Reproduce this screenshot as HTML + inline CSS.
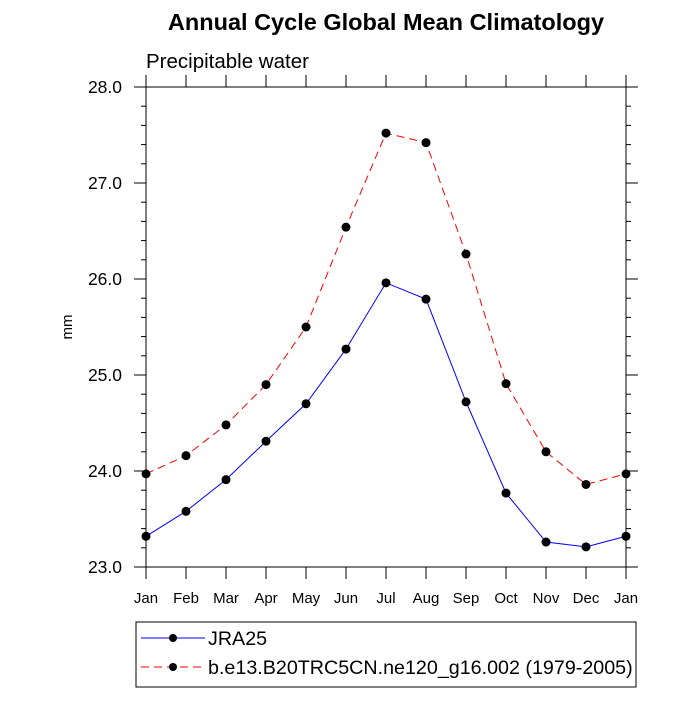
<!DOCTYPE html>
<html><head><meta charset="utf-8"><style>
body{margin:0;background:#fff}
svg{font-family:"Liberation Sans",sans-serif}
</style></head><body>
<svg width="700" height="700" id="c">
<text x="386" y="30" text-anchor="middle" font-size="23.5" font-weight="bold">Annual Cycle Global Mean Climatology</text>
<text x="146" y="68" font-size="20.5">Precipitable water</text>
<text transform="translate(72,327) rotate(-90)" text-anchor="middle" font-size="15">mm</text>
<rect x="146" y="87" width="480" height="480" fill="none" stroke="#000" stroke-width="1"/>
<g id="ax"></g><g id="series"></g>
<g>
<rect x="136" y="622" width="500" height="65" fill="none" stroke="#000"/>
<line x1="141" y1="638" x2="205" y2="638" stroke="#00f"/><circle cx="173" cy="638" r="4"/>
<text x="208" y="645" font-size="19.7">JRA25</text>
<line x1="141" y1="667" x2="205" y2="667" stroke="#f00" stroke-dasharray="8,5"/><circle cx="173" cy="667" r="4"/>
<text x="208" y="674" font-size="19.7">b.e13.B20TRC5CN.ne120_g16.002 (1979-2005)</text>
</g>
</svg>
<script>
const months=["Jan","Feb","Mar","Apr","May","Jun","Jul","Aug","Sep","Oct","Nov","Dec","Jan"];
const jra=[23.32,23.58,23.91,24.31,24.70,25.27,25.96,25.79,24.72,23.77,23.26,23.21,23.32];
const model=[23.97,24.16,24.48,24.90,25.50,26.54,27.52,27.42,26.26,24.91,24.20,23.86,23.97];
const yTicks=["23.0","24.0","25.0","26.0","27.0","28.0"];
const NS="http://www.w3.org/2000/svg";
const X=i=>146+i*40, Y=v=>567-(v-23)*96;
function mk(t,a,p){const e=document.createElementNS(NS,t);for(const k in a)e.setAttribute(k,a[k]);p.appendChild(e);return e;}
const ax=document.getElementById('ax');
months.forEach((m,i)=>{
 mk('line',{x1:X(i),x2:X(i),y1:567,y2:579,stroke:'#000'},ax);
 mk('line',{x1:X(i),x2:X(i),y1:87,y2:75,stroke:'#000'},ax);
 const t=mk('text',{x:X(i),y:603,'text-anchor':'middle','font-size':15},ax);t.textContent=m;
 
 
});
for(let k=0;k<=25;k++){const v=23+k*0.2,y=Y(v),L=k%5==0?12:5;
 mk('line',{x1:146,x2:146-L,y1:y,y2:y,stroke:'#000'},ax);
 mk('line',{x1:626,x2:626+L,y1:y,y2:y,stroke:'#000'},ax);}
yTicks.forEach(s=>{const t=mk('text',{x:122,y:Y(+s)+6,'text-anchor':'end','font-size':17.5},ax);t.textContent=s;
 
 });
const g=document.getElementById('series');
function series(d,col,dash,name){
 const p=mk('polyline',{points:d.map((v,i)=>X(i)+','+Y(v)).join(' '),fill:'none',stroke:col,'stroke-dasharray':dash},g);
 
 
 d.forEach((v,i)=>{const c=mk('circle',{cx:X(i),cy:Y(v),r:4.5,fill:'#000'},g);
  
  });
}
series(model,'#f00','8,5','model');
series(jra,'#00f','none','jra25');
</script>
</body></html>
